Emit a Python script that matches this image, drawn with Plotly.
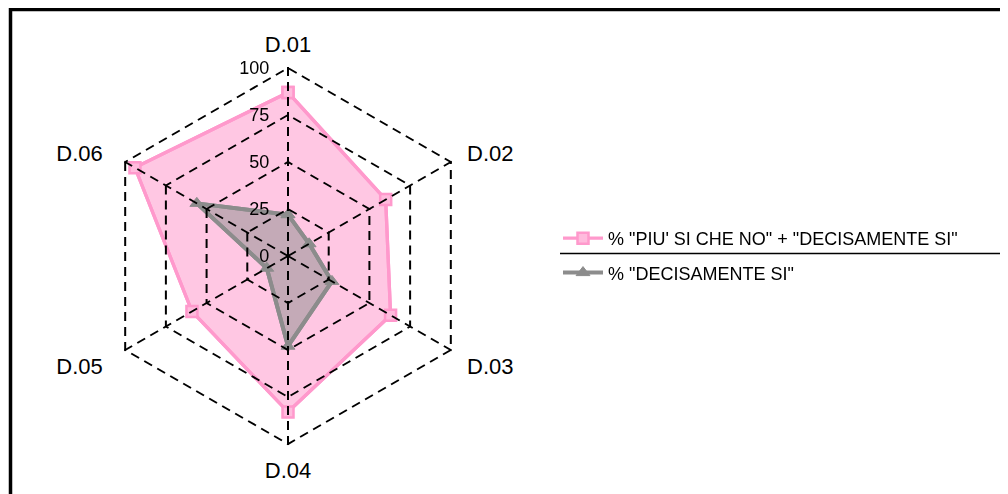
import plotly.graph_objects as go

categories = ["D.01", "D.02", "D.03", "D.04", "D.05", "D.06"]
piu_si_values = [87, 60, 63, 83, 59, 94]
decisamente_values = [22, 13, 27, 48, 13, 56]
radial_ticks = [0, 25, 50, 75, 100]
series_names = ['% "PIU\' SI CHE NO" + "DECISAMENTE SI"', '% "DECISAMENTE SI"']

W, H = 1008, 494
OFF = 8  # page body margin
cx, cy, R = 288 - OFF, 256 - OFF, 188
RMAX = 101
Rd = R * RMAX / 100

def closed(v):
    return list(v) + [v[0]]

# extra horizontal breathing room for the side labels (right side: leading, left side: trailing)
NB = "\u00a0"
label_pad = {"D.02": (1, 0), "D.03": (1, 0), "D.05": (0, 2), "D.06": (0, 2)}
angular_text = [NB * label_pad.get(c, (0, 0))[0] + c + NB * label_pad.get(c, (0, 0))[1] for c in categories]

pink_line = "#ff99cc"
pink_fill = "rgba(255,153,204,0.55)"
gray_line = "#8c8c8c"
gray_fill = "rgba(143,143,143,0.53)"

fig = go.Figure()
fig.add_trace(go.Scatterpolar(r=closed(piu_si_values), theta=closed(categories), mode="lines",
                              fill="toself", fillcolor=pink_fill, line=dict(color=pink_line, width=3.3),
                              showlegend=False, hoverinfo="skip"))
fig.add_trace(go.Scatterpolar(r=closed(piu_si_values), theta=closed(categories), mode="lines+markers",
                              name=series_names[0], legendgroup="a",
                              line=dict(color=pink_line, width=3.3),
                              marker=dict(symbol="square", size=11, color="#ffbbdd",
                                          line=dict(color=pink_line, width=2.5))))
fig.add_trace(go.Scatterpolar(r=closed(decisamente_values), theta=closed(categories), mode="lines",
                              fill="toself", fillcolor=gray_fill, line=dict(color=gray_line, width=4),
                              showlegend=False, hoverinfo="skip"))
fig.add_trace(go.Scatterpolar(r=closed(decisamente_values), theta=closed(categories), mode="lines+markers",
                              name=series_names[1], legendgroup="b",
                              line=dict(color=gray_line, width=4),
                              marker=dict(symbol="triangle-up", size=12, color=gray_line,
                                          line=dict(color=gray_line, width=1))))
# invisible trace so the overlay grid subplot (above the fills) is rendered
fig.add_trace(go.Scatterpolar(r=piu_si_values, theta=categories, mode="markers", subplot="polar2",
                              opacity=0, showlegend=False, hoverinfo="skip"))

domain = dict(x=[(cx - Rd) / W, (cx + Rd) / W], y=[(H - cy - Rd) / H, (H - cy + Rd) / H])
dash = "9px,6px"

fig.update_layout(
    width=W, height=H,
    margin=dict(l=0, r=0, t=0, b=0),
    paper_bgcolor="white",
    font=dict(family="Liberation Sans, Arial, sans-serif", color="black"),
    polar=dict(
        domain=domain, bgcolor="white", gridshape="linear",
        radialaxis=dict(range=[0, RMAX], visible=False, showgrid=False),
        angularaxis=dict(categoryorder="array", categoryarray=categories,
                         rotation=90, direction="clockwise",
                         showline=False, showgrid=False, showticklabels=False, ticks=""),
    ),
    polar2=dict(
        domain=domain, bgcolor="rgba(0,0,0,0)", gridshape="linear",
        radialaxis=dict(range=[0, RMAX], tickvals=radial_ticks, ticktext=[str(t) for t in radial_ticks],
                        angle=90, tickangle=90, side="counterclockwise",
                        showline=False, ticks="outside", ticklen=12, tickcolor="rgba(0,0,0,0)",
                        gridcolor="black", gridwidth=1.5, griddash=dash,
                        tickfont=dict(size=18, color="black")),
        angularaxis=dict(categoryorder="array", categoryarray=categories,
                         tickmode="array", tickvals=categories, ticktext=angular_text,
                         rotation=90, direction="clockwise",
                         showline=False, ticks="outside", ticklen=5, tickcolor="rgba(0,0,0,0)",
                         gridcolor="black", gridwidth=1.5, griddash=dash,
                         tickfont=dict(size=22, color="black")),
    ),
    legend=dict(x=550 / W, y=1 - 212 / H, xanchor="left", yanchor="top",
                font=dict(size=18, color="black"), traceorder="grouped", tracegroupgap=8,
                bgcolor="rgba(0,0,0,0)", itemwidth=40),
    shapes=[
        dict(type="rect", xref="paper", yref="paper", x0=2.5 / W, x1=1.02, y0=-0.05, y1=1 - 1.5 / H,
             line=dict(color="black", width=3.5), fillcolor="rgba(0,0,0,0)", layer="above"),
        dict(type="line", xref="paper", yref="paper", x0=552 / W, x1=994 / W,
             y0=1 - 245.5 / H, y1=1 - 245.5 / H, line=dict(color="black", width=1.5)),
    ],
)

fig.write_html("out.html")
